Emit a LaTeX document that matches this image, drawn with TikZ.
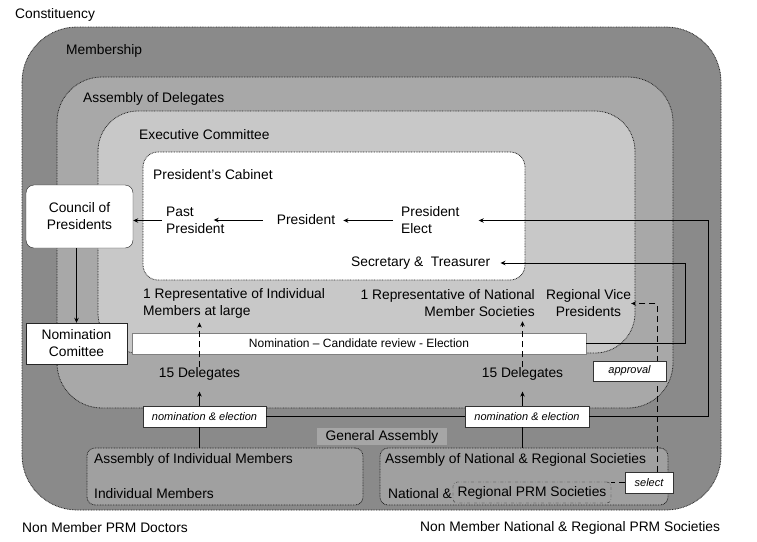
\documentclass[tikz,border=0pt]{standalone}
\usepackage{fontspec}
\setmainfont{Liberation Sans}
\usetikzlibrary{arrows.meta}
\definecolor{membgray}{HTML}{8A8A8A}
\definecolor{delegray}{HTML}{A8A8A8}
\definecolor{execgray}{HTML}{C8C8C8}
\definecolor{assemgray}{HTML}{A0A0A0}
\definecolor{gagray}{HTML}{A6A6A6}

\begin{document}
\begin{tikzpicture}[x=1pt, y=-1pt,
    regionbox/.style={draw=black!85, line width=0.8pt, dash pattern=on 0.8pt off 0.8pt, rounded corners=#1},
    txt/.style={font=\fontsize{13.8}{17}\selectfont, inner sep=0pt},
    whitebox/.style={draw=black!85, fill=white, font=\fontsize{13.8}{17}\selectfont, align=center, inner sep=0pt},
    tagnode/.style={draw=black!80, fill=white, font=\fontsize{11}{13}\selectfont\itshape, inner sep=0pt, minimum height=21pt},
    arr/.style={-{Stealth[length=5pt,width=4.5pt]}, line width=1pt},
    longdash/.style={dash pattern=on 6pt off 4pt, line width=1pt}
    ]
    \useasboundingbox (0,0) rectangle (757,541);

    % nested regions
    \draw [regionbox=55, fill=membgray] (22,27) rectangle (721,510);
    \draw [regionbox=45, fill=delegray] (57,77) rectangle (673,408);
    \draw [regionbox=40, fill=execgray] (98,111) rectangle (635,353);
    \draw [regionbox=15, fill=white] (143,152) rectangle (525,280);

    \node [txt, anchor=west] (constit) at (15,15) {Constituency};
    \node [txt, anchor=west] (memb) at (66,51) {Membership};
    \node [txt, anchor=west] (deleg) at (83,99) {Assembly of Delegates};
    \node [txt, anchor=west] (exec) at (139,135) {Executive Committee};
    \node [txt, anchor=west] (cabinet) at (153,175) {President’s Cabinet};

    \node [txt, anchor=west, align=left] (past) at (166,220.5) {Past\\President};
    \node [txt] (pres) at (306,220) {President};
    \node [txt, anchor=west, align=left] (elect) at (401,220.5) {President\\Elect};
    \node [txt, anchor=west] (sec) at (351,263) {Secretary \&\ \ Treasurer};

    \node [whitebox, rounded corners=8, minimum width=107pt, minimum height=63pt] (council) at (79.5,216.5) {Council of\\Presidents};
    \node [whitebox, minimum width=101pt, minimum height=41pt] (nomcom) at (76.5,343.5) {Nomination\\Comittee};
    \node [whitebox, draw=black!50, minimum width=454pt, minimum height=21pt, font=\fontsize{12}{14}\selectfont] (nombar) at (359,343.5) {Nomination – Candidate review - Election};

    \node [txt, anchor=west, align=left] (repind) at (143,303.5) {1 Representative of Individual\\Members at large};
    \node [txt, anchor=east, align=right] (repnat) at (535,303.5) {1 Representative of National\\Member Societies};
    \node [txt, align=center] (rvp) at (588.5,303.5) {Regional Vice\\Presidents};

    \node [txt] (del1) at (199.5,374) {15 Delegates};
    \node [txt] (del2) at (522.5,374) {15 Delegates};
    \node [tagnode, minimum width=123pt] (ne1) at (204.5,416.5) {nomination \& election};
    \node [tagnode, minimum width=124pt] (ne2) at (527,416.5) {nomination \& election};

    \node [txt, fill=gagray, minimum width=130pt, minimum height=17pt] (ga) at (382,436.5) {General Assembly};
    \node [regionbox=8, fill=assemgray, minimum width=276pt, minimum height=57pt] (aim) at (225,476.5) {};
    \node [regionbox=8, fill=assemgray, minimum width=288pt, minimum height=57pt] (anr) at (524,476.5) {};
    \node [txt, anchor=west] (aimtitle) at (94,460) {Assembly of Individual Members};
    \node [txt, anchor=west] (aimmem) at (94,494) {Individual Members};
    \node [txt, anchor=west] (anrtitle) at (385,460) {Assembly of National \& Regional Societies};
    \node [txt, anchor=west] (anrnat) at (388,494) {National \&};
    \node [txt, draw=black!85, dash dot, rounded corners=4, minimum width=158pt, minimum height=21pt] (prm) at (532,492.5) {Regional PRM Societies};
    \node [tagnode, minimum width=48pt] (sel) at (649,482.5) {select};

    \node [txt, anchor=west] (nonind) at (22,528) {Non Member PRM Doctors};
    \node [txt, anchor=west] (nonnat) at (420,528) {Non Member National \& Regional PRM Societies};

    % cabinet arrows
    \draw [arr, shorten <=4pt] (past.west) -- (council.east |- past.west);
    \draw [arr, shorten <=14pt, shorten >=-11pt] (pres.west) -- (past.east |- pres.west);
    \draw [arr, shorten <=8pt, shorten >=8pt] (elect.west) -- (pres.east |- elect.west);
    \draw [arr] (council.south -| nomcom.north) -- (nomcom.north);

    % delegates
    \draw [line width=1pt] (aim.north -| del1.south) -- (ne1.south -| del1.south);
    \draw [line width=1pt] (anr.north -| del2.south) -- (ne2.south -| del2.south);
    \draw [arr, shorten >=11pt] (ne1.north -| del1.south) -- (del1.south);
    \draw [arr, shorten >=11pt] (ne2.north -| del2.south) -- (del2.south);
    \draw [arr, longdash, shorten >=4pt] (del1.north) -- (repind.south -| del1.north);
    \draw [arr, longdash, shorten >=4pt] (del2.north) -- (repnat.south -| del2.north);

    \draw [line width=1pt] (ne1.east) -- (ne2.west);
    \draw [arr, shorten >=19pt] (ne2.east) -- ++(119,0) |- (elect.east);
    \draw [arr, shorten >=10pt] (nombar.east) -- ++(99,0) |- (sec.east);

    % regional vice presidents
    \draw [longdash] (sel.west) -- (sel.west -| prm.east);
    \draw [arr, longdash] ([xshift=8pt]sel.north) |- (rvp.east);
    \node [tagnode, minimum width=73pt, minimum height=20pt] (appr) at (629.5,371) {approval};
\end{tikzpicture}
\end{document}
